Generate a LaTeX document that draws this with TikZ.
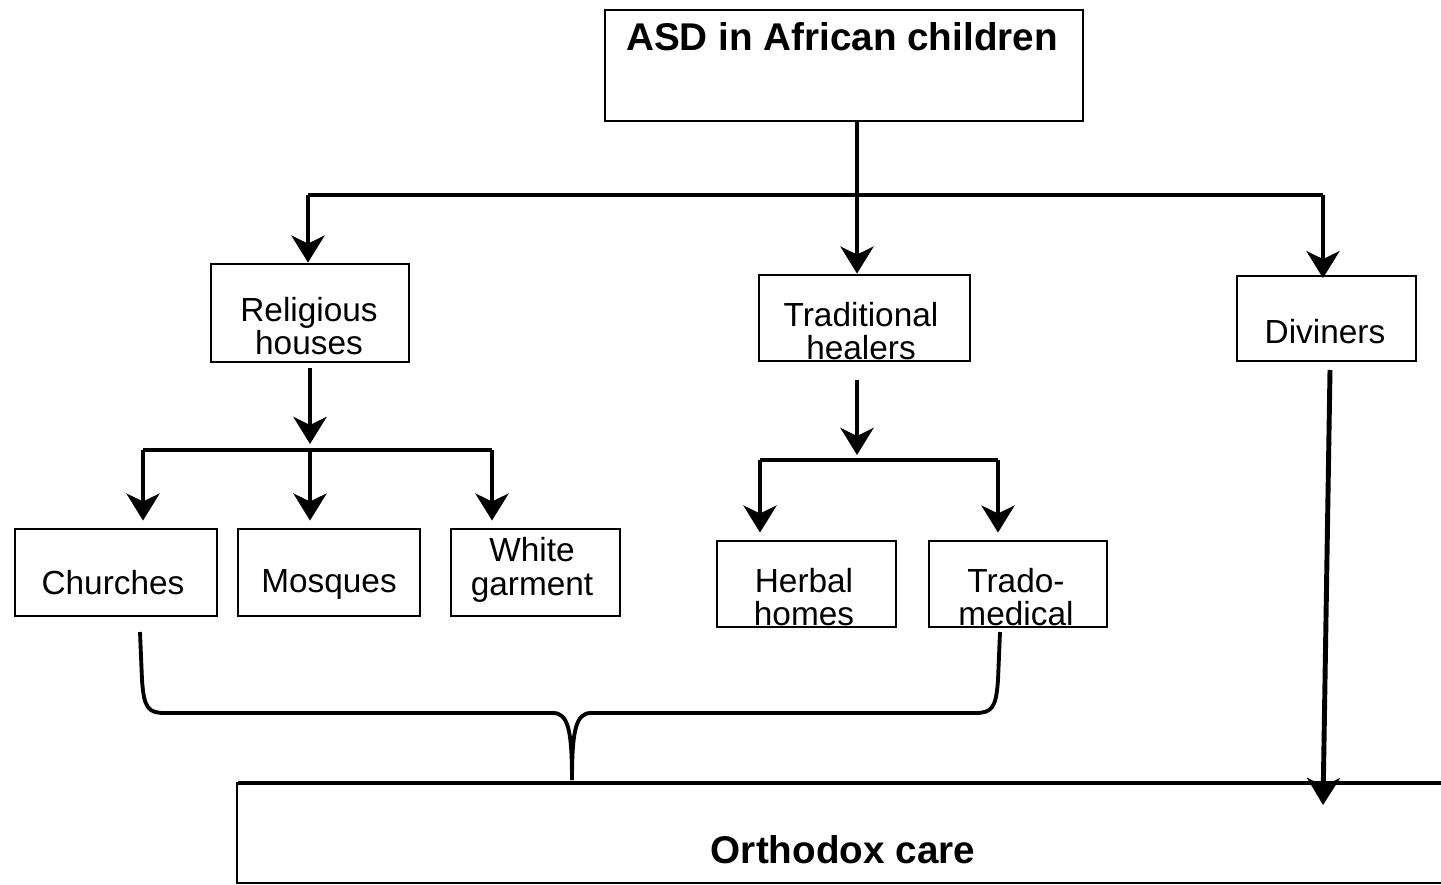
\documentclass[tikz,border=0pt]{standalone}
\usepackage{fontspec}
\setmainfont{Liberation Sans}
\usetikzlibrary{arrows.meta}
\begin{document}
\begin{tikzpicture}[x=0.02cm,y=-0.02cm,
  box/.style={draw=black,line width=1.6pt,fill=white,inner sep=0pt,rectangle},
  lbl/.style={font=\fontsize{19}{19}\selectfont,align=center,inner sep=0pt},
  conn/.style={line width=2.8pt},
  arr/.style={line width=2.8pt,-{Stealth[length=0.54cm,width=0.66cm,inset=0.16cm]}},
  brace/.style={line width=2.2pt}]
\useasboundingbox (0,0) rectangle (1441,885);
% boxes
\node[box,minimum width=9.56cm,minimum height=2.22cm] (top) at (844,65.5) {};
\node[font=\fontsize{22}{22}\selectfont\bfseries,inner sep=0pt] (toptxt) at (842,37) {ASD in African children};
\node[box,minimum width=3.96cm,minimum height=1.96cm] (rel) at (310,313) {};
\node[lbl] (reltxt) at (309,326) {Religious\\houses};
\node[box,minimum width=4.22cm,minimum height=1.72cm] (trad) at (864.5,318) {};
\node[lbl] (tradtxt) at (861,331) {Traditional\\healers};
\node[box,minimum width=3.58cm,minimum height=1.70cm] (div) at (1326.5,318.5) {};
\node[lbl] (divtxt) at (1325,332) {Diviners};
\node[box,minimum width=4.04cm,minimum height=1.74cm] (chu) at (116,572.5) {};
\node[lbl] (chutxt) at (113,583) {Churches};
\node[box,minimum width=3.64cm,minimum height=1.74cm] (mos) at (329,572.5) {};
\node[lbl] (mostxt) at (329,584) {Mosques};
\node[box,minimum width=3.38cm,minimum height=1.74cm] (whi) at (535.5,572.5) {};
\node[lbl] (whitxt) at (532,570) {White\\garment};
\node[box,minimum width=3.58cm,minimum height=1.72cm] (her) at (806.5,584) {};
\node[lbl] (hertxt) at (804,597) {Herbal\\homes};
\node[box,minimum width=3.56cm,minimum height=1.72cm] (tra) at (1018,584) {};
\node[lbl] (tratxt) at (1016,597) {Trado-\\medical};
% orthodox care box (runs off the right edge)
\draw[line width=1.6pt] (1460,883) -- (237,883) -- (237,783) -- (1460,783);
\draw[line width=2.8pt] (238,783) -- (1441,783);
\node[font=\fontsize{22}{22}\selectfont\bfseries,inner sep=0pt] (orth) at (843,850) {Orthodox care};
% top level connectors
\coordinate (t1) at (857,195);
\coordinate (tl) at (308,195);
\coordinate (tr) at (1323,195);
\draw[conn] (top.south -| t1) -- (t1);
\draw[conn] (tl) -- (tr);
\draw[arr] (tl) -- (rel.north -| tl);
\draw[arr] (t1) -- (trad.north -| t1);
\draw[arr] (tr) -- ([yshift=-2pt]div.north -| tr);
% religious houses branch
\coordinate (r0) at (310,368);
\coordinate (r1) at (310,450);
\coordinate (rl) at (143,450);
\coordinate (rr) at (492,450);
\draw[arr] (r0) -- (310,444);
\draw[conn] (r1) -- (310,452);
\draw[conn] (rl) -- (rr);
\draw[arr] (rl) -- ([yshift=4pt]chu.north -| rl);
\draw[arr] (r1) -- ([yshift=4pt]mos.north -| r1);
\draw[arr] (rr) -- ([yshift=4pt]whi.north -| rr);
% traditional healers branch
\coordinate (h0) at (857,380);
\coordinate (hl) at (760,460);
\coordinate (hr) at (998,460);
\draw[arr] (h0) -- (857,455);
\draw[conn] (hl) -- (hr);
\draw[arr] (hl) -- ([yshift=4pt]her.north -| hl);
\draw[arr] (hr) -- ([yshift=4pt]tra.north -| hr);
% diviners to orthodox care
\coordinate (d0) at (1330,370);
\coordinate (d1) at (1323,805);
\draw[arr] (d0) -- (d1);
% brace
\coordinate (bl) at (140,632);
\coordinate (br) at (1000,632);
\coordinate (bm) at (572,780);
\draw[brace] (bl) -- (142,680) .. controls (144,708) and (148,713) .. (165,713)
  -- (553,713) .. controls (568,713) and (572,730) .. (bm);
\draw[brace] (br) -- (998,680) .. controls (996,708) and (992,713) .. (975,713)
  -- (591,713) .. controls (576,713) and (572,730) .. (bm);
\end{tikzpicture}
\end{document}
